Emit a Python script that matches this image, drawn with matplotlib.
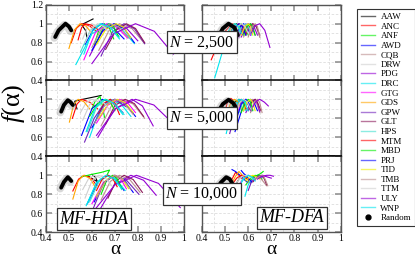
import matplotlib
matplotlib.use("Agg")
import matplotlib.pyplot as plt
from matplotlib.lines import Line2D
from matplotlib.ticker import FixedLocator, FuncFormatter

plt.rcParams['font.family'] = ['Liberation Serif', 'DejaVu Serif']
plt.rcParams['mathtext.fontset'] = 'custom'
plt.rcParams['mathtext.rm'] = 'Liberation Serif'
plt.rcParams['mathtext.it'] = 'Liberation Serif:italic'

SERIES = ["AAW", "ANC", "ANF", "AWD", "CQB", "DRW", "PDG", "DRC", "GTG", "GDS",
          "GPW", "GLT", "HPS", "MTM", "MBD", "PRJ", "TID", "TMB", "TTM", "ULY", "WNP"]
COLORS = ["#000000", "#ff0000", "#00ee00", "#0000ff", "#bc8f8f", "#d0d0d0", "#9400d3",
          "#00e5ee", "#ff00ff", "#ffa500", "#7221bc", "#8b1a5a", "#40e0d0", "#ff0000",
          "#00ee00", "#0000ff", "#eeee00", "#bc8f8f", "#d0d0d0", "#9400d3", "#00e5ee"]
N_LABELS = ["$N$ = 2,500", "$N$ = 5,000", "$N$ = 10,000"]
METHODS = ["MF-HDA", "MF-DFA"]
X_TICKS = [0.4, 0.5, 0.6, 0.7, 0.8, 0.9, 1.0]
Y_TICKS = [0.4, 0.6, 0.8, 1.0, 1.2]

# (alpha points, f(alpha) points) per series
HDA_2500 = {
    "AAW": ([0.578, 0.572, 0.555, 0.58, 0.605], [0.86, 0.93, 0.99, 1.02, 1.05]),
    "ANC": ([0.51, 0.532, 0.555, 0.588, 0.62], [0.80, 0.95, 1.0, 0.98, 0.92]),
    "ANF": ([0.61, 0.632, 0.655, 0.675, 0.695], [0.78, 0.945, 1.0, 0.96, 0.84]),
    "AWD": ([0.57, 0.608, 0.645, 0.692, 0.74], [0.78, 0.945, 1.0, 0.96, 0.84]),
    "CQB": ([0.63, 0.675, 0.72, 0.775, 0.83], [0.72, 0.93, 1.0, 0.948, 0.79]),
    "DRW": ([0.56, 0.58, 0.60, 0.62, 0.64], [0.84, 0.96, 1.0, 0.975, 0.90]),
    "PDG": ([0.59, 0.645, 0.70, 0.75, 0.80], [0.66, 0.915, 1.0, 0.955, 0.82]),
    "DRC": ([0.53, 0.60, 0.67, 0.728, 0.785], [0.57, 0.893, 1.0, 0.948, 0.79]),
    "GTG": ([0.565, 0.615, 0.665, 0.71, 0.755], [0.62, 0.905, 1.0, 0.962, 0.85]),
    "GDS": ([0.50, 0.524, 0.548, 0.574, 0.60], [0.74, 0.935, 1.0, 0.975, 0.90]),
    "GPW": ([0.64, 0.69, 0.74, 0.785, 0.83], [0.66, 0.915, 1.0, 0.948, 0.79]),
    "GLT": ([0.66, 0.705, 0.75, 0.79, 0.83], [0.73, 0.932, 1.0, 0.95, 0.80]),
    "HPS": ([0.55, 0.592, 0.635, 0.678, 0.72], [0.70, 0.925, 1.0, 0.965, 0.86]),
    "MTM": ([0.54, 0.555, 0.57, 0.598, 0.625], [0.83, 0.958, 1.0, 0.985, 0.94]),
    "MBD": ([0.62, 0.648, 0.675, 0.695, 0.715], [0.80, 0.95, 1.0, 0.968, 0.87]),
    "PRJ": ([0.60, 0.648, 0.695, 0.74, 0.785], [0.72, 0.93, 1.0, 0.95, 0.80]),
    "TID": ([0.62, 0.662, 0.705, 0.738, 0.77], [0.78, 0.945, 1.0, 0.962, 0.85]),
    "TMB": ([0.60, 0.64, 0.68, 0.72, 0.76], [0.75, 0.938, 1.0, 0.962, 0.85]),
    "TTM": ([0.57, 0.598, 0.625, 0.652, 0.68], [0.80, 0.95, 1.0, 0.97, 0.88]),
    "ULY": ([0.60, 0.695, 0.79, 0.872, 0.955], [0.58, 0.895, 1.0, 0.92, 0.68]),
    "WNP": ([0.565, 0.602, 0.64, 0.68, 0.72], [0.68, 0.92, 1.0, 0.96, 0.84]),
}
HDA_5000 = {
    "AAW": ([0.535, 0.525, 0.56, 0.60, 0.64], [0.90, 0.98, 1.0, 1.02, 1.04]),
    "ANC": ([0.515, 0.535, 0.555, 0.59, 0.625], [0.80, 0.95, 1.0, 0.97, 0.90]),
    "ANF": ([0.60, 0.615, 0.635, 0.645, 0.655], [0.90, 0.985, 1.03, 0.94, 0.81]),
    "AWD": ([0.555, 0.60, 0.645, 0.69, 0.735], [0.62, 0.90, 1.0, 0.965, 0.86]),
    "CQB": ([0.64, 0.685, 0.73, 0.78, 0.83], [0.72, 0.93, 1.0, 0.95, 0.80]),
    "DRW": ([0.55, 0.575, 0.60, 0.625, 0.65], [0.86, 0.965, 1.0, 0.975, 0.90]),
    "PDG": ([0.626, 0.70, 0.775, 0.82, 0.867], [0.60, 0.90, 1.0, 0.93, 0.72]),
    "DRC": ([0.59, 0.635, 0.68, 0.725, 0.77], [0.60, 0.90, 1.0, 0.955, 0.82]),
    "GTG": ([0.62, 0.67, 0.72, 0.755, 0.79], [0.75, 0.94, 1.0, 0.965, 0.86]),
    "GDS": ([0.502, 0.52, 0.54, 0.565, 0.59], [0.76, 0.94, 1.0, 0.975, 0.90]),
    "GPW": ([0.568, 0.61, 0.655, 0.70, 0.75], [0.55, 0.80, 0.96, 1.0, 0.92]),
    "GLT": ([0.66, 0.70, 0.745, 0.785, 0.825], [0.74, 0.935, 1.0, 0.955, 0.82]),
    "HPS": ([0.58, 0.62, 0.66, 0.70, 0.74], [0.66, 0.915, 1.0, 0.96, 0.84]),
    "MTM": ([0.63, 0.655, 0.68, 0.70, 0.72], [0.85, 0.962, 1.0, 0.96, 0.84]),
    "MBD": ([0.59, 0.625, 0.66, 0.68, 0.70], [0.82, 0.955, 1.0, 0.97, 0.88]),
    "PRJ": ([0.60, 0.65, 0.70, 0.745, 0.79], [0.70, 0.925, 1.0, 0.955, 0.82]),
    "TID": ([0.63, 0.67, 0.71, 0.745, 0.78], [0.80, 0.95, 1.0, 0.965, 0.86]),
    "TMB": ([0.61, 0.655, 0.70, 0.74, 0.78], [0.74, 0.935, 1.0, 0.96, 0.84]),
    "TTM": ([0.56, 0.59, 0.62, 0.65, 0.68], [0.78, 0.945, 1.0, 0.97, 0.88]),
    "ULY": ([0.62, 0.705, 0.79, 0.87, 0.947], [0.62, 0.905, 1.0, 0.94, 0.76]),
    "WNP": ([0.575, 0.615, 0.655, 0.695, 0.735], [0.66, 0.915, 1.0, 0.96, 0.84]),
}
HDA_10000 = {
    "AAW": ([0.585, 0.605, 0.625, 0.615, 0.60], [0.99, 0.96, 0.93, 0.98, 1.01]),
    "ANC": ([0.517, 0.542, 0.568, 0.595, 0.622], [0.835, 0.96, 1.0, 0.975, 0.89]),
    "ANF": ([0.555, 0.60, 0.64, 0.677, 0.665], [0.985, 1.01, 1.03, 1.055, 1.0]),
    "AWD": ([0.58, 0.625, 0.67, 0.705, 0.74], [0.70, 0.925, 1.0, 0.96, 0.84]),
    "CQB": ([0.64, 0.68, 0.72, 0.765, 0.81], [0.74, 0.935, 1.0, 0.955, 0.82]),
    "DRW": ([0.56, 0.585, 0.61, 0.635, 0.66], [0.85, 0.962, 1.0, 0.975, 0.90]),
    "PDG": ([0.63, 0.70, 0.77, 0.825, 0.88], [0.62, 0.905, 1.0, 0.948, 0.79]),
    "DRC": ([0.575, 0.62, 0.665, 0.705, 0.745], [0.68, 0.92, 1.0, 0.96, 0.84]),
    "GTG": ([0.60, 0.65, 0.70, 0.725, 0.75], [0.70, 0.925, 1.0, 0.965, 0.86]),
    "GDS": ([0.517, 0.54, 0.563, 0.59, 0.615], [0.75, 0.938, 1.0, 0.97, 0.88]),
    "GPW": ([0.604, 0.65, 0.695, 0.75, 0.805], [0.64, 0.91, 1.0, 0.95, 0.80]),
    "GLT": ([0.67, 0.705, 0.74, 0.78, 0.82], [0.76, 0.94, 1.0, 0.955, 0.82]),
    "HPS": ([0.59, 0.63, 0.67, 0.70, 0.73], [0.72, 0.93, 1.0, 0.962, 0.85]),
    "MTM": ([0.62, 0.645, 0.67, 0.69, 0.71], [0.84, 0.96, 1.0, 0.97, 0.88]),
    "MBD": ([0.64, 0.665, 0.69, 0.71, 0.73], [0.80, 0.95, 1.0, 0.965, 0.86]),
    "PRJ": ([0.61, 0.655, 0.70, 0.74, 0.78], [0.72, 0.93, 1.0, 0.955, 0.82]),
    "TID": ([0.62, 0.66, 0.70, 0.73, 0.76], [0.78, 0.945, 1.0, 0.965, 0.86]),
    "TMB": ([0.62, 0.66, 0.70, 0.735, 0.77], [0.76, 0.94, 1.0, 0.962, 0.85]),
    "TTM": ([0.57, 0.60, 0.63, 0.66, 0.69], [0.76, 0.94, 1.0, 0.97, 0.88]),
    "ULY": ([0.60, 0.70, 0.794, 0.89, 0.985], [0.60, 0.90, 1.0, 0.915, 0.66]),
    "WNP": ([0.58, 0.62, 0.66, 0.695, 0.73], [0.70, 0.925, 1.0, 0.965, 0.86]),
}
DFA_2500 = {
    "AAW": ([0.52, 0.535, 0.55, 0.565, 0.58], [0.88, 0.97, 1.0, 0.97, 0.90]),
    "ANC": ([0.44, 0.485, 0.53, 0.555, 0.58], [0.62, 0.88, 1.0, 0.98, 0.92]),
    "ANF": ([0.53, 0.55, 0.57, 0.585, 0.60], [0.85, 0.96, 1.0, 0.97, 0.88]),
    "AWD": ([0.54, 0.56, 0.58, 0.595, 0.61], [0.80, 0.95, 1.0, 0.97, 0.88]),
    "CQB": ([0.58, 0.60, 0.62, 0.635, 0.65], [0.86, 0.965, 1.0, 0.965, 0.86]),
    "DRW": ([0.51, 0.525, 0.54, 0.555, 0.57], [0.88, 0.97, 1.0, 0.975, 0.90]),
    "PDG": ([0.57, 0.59, 0.61, 0.625, 0.64], [0.86, 0.965, 1.0, 0.97, 0.88]),
    "DRC": ([0.455, 0.50, 0.545, 0.56, 0.575], [0.43, 0.80, 1.0, 0.975, 0.90]),
    "GTG": ([0.55, 0.57, 0.59, 0.60, 0.61], [0.82, 0.955, 1.0, 0.97, 0.88]),
    "GDS": ([0.51, 0.525, 0.54, 0.555, 0.57], [0.86, 0.965, 1.0, 0.975, 0.90]),
    "GPW": ([0.56, 0.58, 0.60, 0.615, 0.63], [0.86, 0.965, 1.0, 0.97, 0.88]),
    "GLT": ([0.59, 0.605, 0.62, 0.635, 0.65], [0.88, 0.97, 1.0, 0.97, 0.88]),
    "HPS": ([0.55, 0.57, 0.59, 0.60, 0.615], [0.85, 0.962, 1.0, 0.97, 0.88]),
    "MTM": ([0.53, 0.545, 0.56, 0.575, 0.59], [0.84, 0.96, 1.0, 0.975, 0.90]),
    "MBD": ([0.58, 0.595, 0.61, 0.62, 0.63], [0.88, 0.97, 1.0, 0.97, 0.88]),
    "PRJ": ([0.52, 0.54, 0.56, 0.575, 0.59], [0.80, 0.95, 1.0, 0.97, 0.88]),
    "TID": ([0.57, 0.585, 0.60, 0.61, 0.62], [0.88, 0.97, 1.0, 0.97, 0.88]),
    "TMB": ([0.60, 0.615, 0.63, 0.64, 0.65], [0.86, 0.965, 1.0, 0.97, 0.86]),
    "TTM": ([0.54, 0.555, 0.57, 0.585, 0.60], [0.88, 0.97, 1.0, 0.975, 0.90]),
    "ULY": ([0.613, 0.63, 0.65, 0.672, 0.694], [0.90, 0.98, 1.0, 0.93, 0.75]),
    "WNP": ([0.50, 0.52, 0.54, 0.555, 0.57], [0.82, 0.955, 1.0, 0.975, 0.90]),
}
DFA_5000 = {
    "AAW": ([0.53, 0.545, 0.56, 0.575, 0.59], [0.90, 0.975, 1.0, 0.97, 0.90]),
    "ANC": ([0.50, 0.51, 0.525, 0.54, 0.555], [0.88, 0.97, 1.01, 0.98, 0.92]),
    "ANF": ([0.52, 0.535, 0.55, 0.565, 0.58], [0.86, 0.965, 1.0, 0.97, 0.88]),
    "AWD": ([0.543, 0.575, 0.61, 0.625, 0.64], [0.66, 0.91, 1.0, 0.97, 0.88]),
    "CQB": ([0.58, 0.60, 0.62, 0.635, 0.65], [0.88, 0.97, 1.0, 0.965, 0.86]),
    "DRW": ([0.52, 0.535, 0.55, 0.565, 0.58], [0.90, 0.975, 1.0, 0.975, 0.90]),
    "PDG": ([0.59, 0.61, 0.63, 0.64, 0.65], [0.86, 0.965, 1.0, 0.96, 0.87]),
    "DRC": ([0.505, 0.53, 0.56, 0.575, 0.59], [0.64, 0.90, 1.0, 0.97, 0.88]),
    "GTG": ([0.55, 0.57, 0.59, 0.60, 0.61], [0.84, 0.96, 1.0, 0.97, 0.88]),
    "GDS": ([0.51, 0.525, 0.54, 0.555, 0.57], [0.87, 0.967, 1.0, 0.975, 0.90]),
    "GPW": ([0.52, 0.55, 0.58, 0.595, 0.61], [0.64, 0.91, 1.0, 0.97, 0.88]),
    "GLT": ([0.60, 0.615, 0.63, 0.64, 0.655], [0.88, 0.97, 1.0, 0.97, 0.88]),
    "HPS": ([0.56, 0.575, 0.59, 0.60, 0.615], [0.86, 0.965, 1.0, 0.97, 0.88]),
    "MTM": ([0.54, 0.555, 0.57, 0.58, 0.59], [0.86, 0.965, 1.0, 0.975, 0.90]),
    "MBD": ([0.57, 0.585, 0.60, 0.61, 0.62], [0.86, 0.965, 1.0, 0.97, 0.88]),
    "PRJ": ([0.55, 0.57, 0.59, 0.60, 0.615], [0.80, 0.95, 1.0, 0.97, 0.88]),
    "TID": ([0.58, 0.595, 0.61, 0.62, 0.63], [0.88, 0.97, 1.0, 0.97, 0.88]),
    "TMB": ([0.61, 0.625, 0.64, 0.65, 0.66], [0.86, 0.965, 1.0, 0.965, 0.86]),
    "TTM": ([0.55, 0.565, 0.58, 0.595, 0.61], [0.88, 0.97, 1.0, 0.975, 0.90]),
    "ULY": ([0.62, 0.635, 0.65, 0.67, 0.687], [0.92, 0.98, 1.0, 0.97, 0.93]),
    "WNP": ([0.54, 0.555, 0.57, 0.585, 0.60], [0.86, 0.965, 1.0, 0.97, 0.88]),
}
DFA_10000 = {
    "AAW": ([0.55, 0.565, 0.58, 0.595, 0.61], [0.92, 0.98, 1.0, 0.975, 0.92]),
    "ANC": ([0.514, 0.528, 0.545, 0.56, 0.575], [0.835, 0.95, 1.03, 1.0, 0.96]),
    "ANF": ([0.59, 0.61, 0.63, 0.645, 0.66], [0.90, 0.97, 1.0, 0.99, 0.96]),
    "AWD": ([0.53, 0.545, 0.565, 0.58, 0.595], [1.06, 1.04, 1.0, 0.96, 0.93]),
    "CQB": ([0.60, 0.62, 0.64, 0.66, 0.68], [0.92, 0.975, 1.0, 0.95, 0.89]),
    "DRW": ([0.55, 0.565, 0.58, 0.595, 0.61], [0.92, 0.98, 1.0, 0.98, 0.93]),
    "PDG": ([0.62, 0.64, 0.66, 0.68, 0.70], [0.94, 0.985, 1.0, 0.985, 0.97]),
    "DRC": ([0.586, 0.60, 0.62, 0.64, 0.66], [0.78, 0.90, 0.975, 1.0, 0.98]),
    "GTG": ([0.56, 0.58, 0.60, 0.615, 0.63], [0.90, 0.97, 1.0, 0.985, 0.95]),
    "GDS": ([0.53, 0.545, 0.56, 0.575, 0.59], [0.92, 0.99, 1.04, 1.0, 0.96]),
    "GPW": ([0.60, 0.615, 0.63, 0.645, 0.66], [0.84, 0.94, 0.99, 1.0, 0.98]),
    "GLT": ([0.62, 0.64, 0.66, 0.67, 0.68], [0.93, 0.98, 1.0, 0.96, 0.90]),
    "HPS": ([0.57, 0.585, 0.60, 0.615, 0.63], [0.94, 0.985, 1.0, 0.985, 0.96]),
    "MTM": ([0.53, 0.55, 0.57, 0.585, 0.60], [0.90, 0.97, 1.0, 0.985, 0.95]),
    "MBD": ([0.61, 0.625, 0.64, 0.655, 0.665], [0.95, 0.99, 1.0, 1.02, 1.04]),
    "PRJ": ([0.57, 0.58, 0.59, 0.60, 0.615], [1.05, 1.02, 1.0, 0.97, 0.93]),
    "TID": ([0.59, 0.605, 0.62, 0.635, 0.65], [0.94, 0.985, 1.0, 0.985, 0.96]),
    "TMB": ([0.63, 0.65, 0.665, 0.675, 0.685], [0.96, 0.99, 1.0, 0.95, 0.89]),
    "TTM": ([0.56, 0.575, 0.59, 0.605, 0.62], [0.95, 0.99, 1.0, 0.99, 0.96]),
    "ULY": ([0.64, 0.66, 0.68, 0.695, 0.709], [0.96, 0.99, 1.0, 1.0, 0.99]),
    "WNP": ([0.57, 0.585, 0.60, 0.615, 0.63], [0.92, 0.975, 1.0, 0.98, 0.94]),
}
# Random (shuffled) spectra, per panel: (alpha points, f points)
RANDOM = {
    (0, 0): ([0.44, 0.455, 0.485, 0.50, 0.51], [0.86, 0.93, 1.0, 0.97, 0.93]),
    (1, 0): ([0.466, 0.478, 0.495, 0.507, 0.517], [0.87, 0.94, 0.99, 0.97, 0.94]),
    (2, 0): ([0.466, 0.478, 0.495, 0.503, 0.51], [0.87, 0.93, 0.98, 0.96, 0.94]),
    (0, 1): ([0.47, 0.49, 0.515, 0.54, 0.555], [0.86, 0.95, 1.0, 0.96, 0.88]),
    (1, 1): ([0.47, 0.49, 0.515, 0.535, 0.545], [0.87, 0.95, 0.995, 0.96, 0.92]),
    (2, 1): ([0.465, 0.48, 0.505, 0.52, 0.53], [0.83, 0.92, 0.98, 0.96, 0.92]),
}
PANELS = {(0, 0): HDA_2500, (1, 0): HDA_5000, (2, 0): HDA_10000,
          (0, 1): DFA_2500, (1, 1): DFA_5000, (2, 1): DFA_10000}

W, H = 415, 259
fig = plt.figure(figsize=(W / 100, H / 100), dpi=100)
col_x = [46 / W, 202 / W]
col_w = [137.7 / W, 138.6 / W]
row_top = [4.7, 80.3, 156.3]
row_h = 76.0

axes = {}
for r in range(3):
    for c in range(2):
        y0 = 1 - (row_top[r] + row_h) / H
        ax = fig.add_axes([col_x[c], y0, col_w[c], row_h / H])
        axes[(r, c)] = ax
        ax.set_xlim(0.4, 1.0)
        ax.set_ylim(0.4, 1.2)
        ax.xaxis.set_major_locator(FixedLocator(X_TICKS))
        ax.xaxis.set_minor_locator(FixedLocator([0.45, 0.55, 0.65, 0.75, 0.85, 0.95]))
        ax.yaxis.set_major_locator(FixedLocator(Y_TICKS))
        ax.yaxis.set_minor_locator(FixedLocator([0.5, 0.7, 0.9, 1.1]))
        ax.grid(True, axis='x', which='minor', color='#dddddd', lw=0.6, ls=(0, (3, 2)))
        ax.grid(True, axis='y', which='both', color='#dddddd', lw=0.6, ls=(0, (3, 2)))
        ax.set_axisbelow(True)
        ax.tick_params(which='major', direction='in', length=4.0, width=1.1,
                       color='#8a8a8a', top=True, right=True, labelsize=7)
        ax.tick_params(axis='x', which='major', pad=1.0)
        ax.tick_params(axis='y', which='major', pad=2.2)
        ax.tick_params(which='minor', length=0)
        for s in ax.spines.values():
            s.set_color('#555555')
            s.set_linewidth(1.0)
        if r > 0:
            ax.spines['top'].set_color('black')
            ax.spines['top'].set_linewidth(1.1)
        if r < 2:
            ax.spines['bottom'].set_color('black')
            ax.spines['bottom'].set_linewidth(1.1)
        ax.xaxis.set_major_formatter(FuncFormatter(lambda v, p: "%g" % round(v, 2)))
        if c == 0:
            if r == 0:
                ax.yaxis.set_major_formatter(FuncFormatter(lambda v, p: "%g" % round(v, 2)))
            else:
                ax.yaxis.set_major_formatter(
                    FuncFormatter(lambda v, p: "" if v > 1.1 else "%g" % round(v, 2)))
        else:
            ax.tick_params(labelleft=False)
        if r < 2:
            ax.tick_params(labelbottom=False)

        data = PANELS[(r, c)]
        for name, color in zip(SERIES, COLORS):
            xs, ys = data[name]
            ax.plot(xs, ys, color=color, lw=0.8, zorder=2)
        rx, ry = RANDOM[(r, c)]
        ax.plot([x - 0.004 for x in rx], [y - 0.01 for y in ry], color='#aaaaaa',
                lw=5.5, alpha=0.45, solid_capstyle='round', zorder=3)
        ax.plot(rx, ry, color='black', lw=2.8, solid_capstyle='round', zorder=4)

# labels
fig.text(14 / W, 1 - 103 / H, "$f$(α)", rotation=90, ha='center', va='center', fontsize=19)
fig.text((46 + 69) / W, 0.6 / H, "α", ha='center', va='bottom', fontsize=14)
fig.text((202 + 69) / W, 0.6 / H, "α", ha='center', va='bottom', fontsize=14)

box = dict(boxstyle='square,pad=0.15', fc='white', ec='#333333', lw=0.9)
for r, lab in enumerate(N_LABELS):
    fig.text(202 / W, 1 - (row_top[r] + 37.5) / H, lab, ha='center', va='center',
             fontsize=11.5, bbox=box, zorder=10)
fig.text(94 / W, 1 - 219 / H, METHODS[0], ha='center', va='center', fontsize=13,
         style='italic', bbox=box, zorder=10)
fig.text(292 / W, 1 - 218 / H, METHODS[1], ha='center', va='center', fontsize=13,
         style='italic', bbox=box, zorder=10)

handles = [Line2D([], [], color=c, lw=1.0, alpha=0.6) for c in COLORS]
handles.append(Line2D([], [], color='black', marker='o', ls='none', markersize=3.5))
labels = SERIES + ["Random"]
leg = fig.legend(handles, labels, loc='upper left', bbox_to_anchor=(357 / W, 1 - 9 / H),
                 fontsize=6.5, handlelength=1.6, handletextpad=0.6, labelspacing=0.14,
                 borderpad=0.4, borderaxespad=0, fancybox=False, edgecolor='#333333',
                 framealpha=1)
leg.get_frame().set_linewidth(0.8)

fig.savefig("out.png", dpi=100)
